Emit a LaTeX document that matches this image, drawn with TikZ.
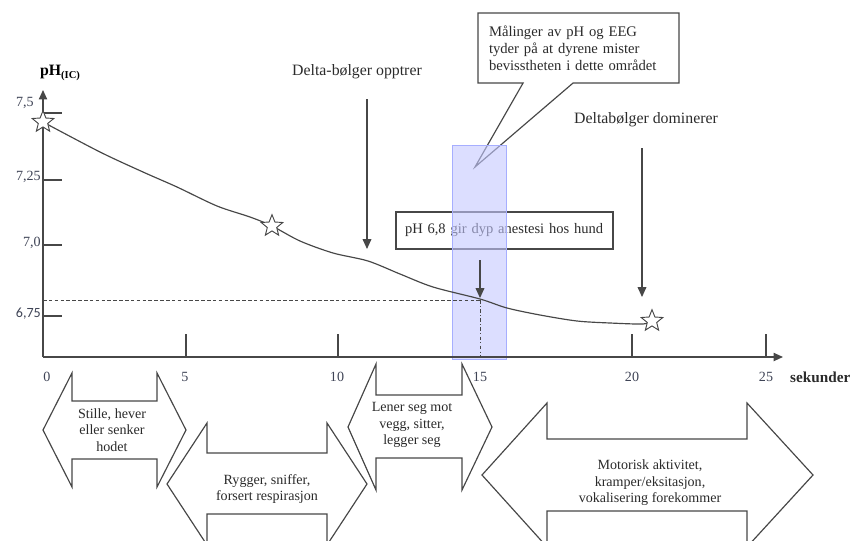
\documentclass[tikz,border=0pt]{standalone}
\usepackage{fontspec}
\setmainfont{Liberation Serif}
\setsansfont{Carlito}
\usetikzlibrary{positioning, arrows.meta, shapes.geometric, shapes.callouts}
\definecolor{Ink}{HTML}{2B2B2B}
\definecolor{Axis}{HTML}{474747}
\definecolor{Tick}{HTML}{3F4456}
\definecolor{ZoneFill}{HTML}{C4C8FF}
\definecolor{ZoneLine}{HTML}{A6AEFF}
\tikzset{
    axis/.style={Axis, line width=1.2pt, -{Triangle[length=8pt, width=7pt]}},
    tickmark/.style={Axis, line width=1pt},
    ticklabel/.style={text=Tick, font=\fontsize{12}{14}\selectfont, inner sep=0pt},
    curve/.style={Axis, line width=1pt, line join=round},
    starmark/.style={star, star points=5, star point ratio=2.3, draw=Axis, fill=white, line width=0.8pt, minimum size=0.68cm, inner sep=0pt},
    downarrow/.style={Axis, line width=1pt, -{Triangle[length=8.5pt, width=7.5pt]}},
    note/.style={text=Ink, font=\fontsize{13.5}{16}\selectfont, inner sep=0pt},
    infobox/.style={draw=Axis, line width=1pt, fill=white, text=Ink, align=left},
    bluezone/.style={fill=ZoneFill, fill opacity=0.6, draw=ZoneLine, line width=0.8pt},
    blockarrow/.style={draw=Axis, line width=1pt, fill=white, line join=miter},
    arrowtext/.style={text=Ink, align=center, font=\fontsize{12}{14}\selectfont, inner sep=0pt},
}

\begin{document}
\begin{tikzpicture}[x=0.3mm, y=-0.3mm]
    \useasboundingbox (0,0) rectangle (853,540);

    % Bokser over grafen
    \node[infobox, minimum width=6.51cm, minimum height=1.11cm, text width=5.97cm, inner xsep=0.27cm,
          font=\fontsize{12.4}{14.5}\selectfont] (dyp) at (504.5,230.5) {pH 6,8 gir dyp anestesi hos hund};
    \coordinate (tip) at (475,167);
    \node[infobox, rectangle callout, callout absolute pointer={(tip)}, callout pointer width=1.5cm,
          minimum width=6.03cm, minimum height=2.1cm, text width=5.37cm, inner xsep=0.33cm,
          font=\fontsize{12.5}{14.5}\selectfont] (maling) at (578.5,48)
          {Målinger av pH og EEG\\tyder på at dyrene mister\\bevisstheten i dette området};

    % Blått område
    \draw[bluezone] (452,145) rectangle (506,359);

    % Akser
    \coordinate (O) at (43,357);
    \coordinate (ytop) at (43,90);
    \coordinate (xend) at (783,357);
    \draw[axis] (O) -- (ytop);
    \draw[axis] (O) -- (xend);
    \node (phlabel) at (60,73) {\fontsize{13.5}{15}\selectfont\bfseries pH\raisebox{-3pt}{\fontsize{9}{10}\selectfont(IC)}};

    % Skala y
    \foreach \ty/\ly/\lx/\lab in {113/103/34/{7,5}, 180/177/41/{7,25}, 245/243/41/{7,0}, 316/314/41/{\sffamily 6,75}} {
        \draw[tickmark] (43,\ty) -- (62,\ty);
        \node[ticklabel, anchor=east] at (\lx,\ly) {\lab};
    }

    % Skala x
    \foreach \x in {186,338,632,766}
        \draw[tickmark] (\x,357) -- (\x,334);
    \foreach \x/\lab in {47/0, 185/5, 337/10, 480/15, 632/20, 766/25}
        \node[ticklabel] at (\x,377) {\lab};
    \node[text=Ink, font=\fontsize{13}{15}\selectfont\bfseries, anchor=west, inner sep=0pt] (sek) at (790,377) {sekunder};

    % pH-kurve
    \draw[curve] plot[smooth, tension=0.5] coordinates {(43,122) (100,152) (143,172) (177,187) (217,206) (250,217)
        (272,226) (300,241) (333,253) (368,261) (400,274) (433,287) (480,299) (507,308) (540,315) (577,321)
        (610,323) (643,324) (652,321)};

    % Nivå pH 6,8
    \coordinate (lvl) at (480,300);
    \coordinate (lvlaxis) at (480,357);
    \draw[Axis, line width=0.8pt, dash pattern=on 3pt off 2pt] (43,300) -- (lvl);
    \draw[Axis, line width=0.8pt, dash dot] (lvl) -- (lvlaxis);

    % Stjerner
    \node[starmark] (s1) at (43,122) {};
    \node[starmark] (s2) at (272,226) {};
    \node[starmark] (s3) at (652,321) {};

    % Tekst og piler
    \node[note] (deltaA) at (357,72) {Delta-bølger opptrer};
    \node[note] (deltaB) at (646,120) {Deltabølger dominerer};
    \coordinate (a1) at (367,99);
    \coordinate (a1tip) at (367,249);
    \coordinate (a2) at (642,148);
    \coordinate (a2tip) at (642,297);
    \coordinate (a3) at (480,260);
    \coordinate (a3tip) at (480,298);
    \draw[downarrow] (a1) -- (a1tip);
    \draw[downarrow] (a2) -- (a2tip);
    \draw[downarrow] (a3) -- (a3tip);

    % Atferd (doble piler)
    \draw[blockarrow] (43,430) -- (72,373) -- (72,401) -- (157,401) -- (157,373) -- (186,430)
        -- (157,487) -- (157,459) -- (72,459) -- (72,487) -- cycle;
    \node[arrowtext] (stille) at (112,430) {Stille, hever\\eller senker\\hodet};

    \draw[blockarrow] (167,484) -- (207,423) -- (207,453) -- (327,453) -- (327,423) -- (367,484)
        -- (327,545) -- (327,514) -- (207,514) -- (207,545) -- cycle;
    \node[arrowtext] (rygger) at (267,489) {Rygger, sniffer,\\forsert respirasjon};

    \draw[blockarrow] (348,427) -- (376,364) -- (376,395) -- (462,395) -- (462,364) -- (492,427)
        -- (462,490) -- (462,458) -- (376,458) -- (376,490) -- cycle;
    \node[arrowtext] (lener) at (412,425) {Lener seg mot\\vegg, sitter,\\legger seg};

    \draw[blockarrow] (482,475) -- (547,403) -- (547,439) -- (747,439) -- (747,403) -- (813,475)
        -- (747,547) -- (747,511) -- (547,511) -- (547,547) -- cycle;
    \node[arrowtext] (motorisk) at (650,483) {Motorisk aktivitet,\\kramper/eksitasjon,\\vokalisering forekommer};
\end{tikzpicture}
\end{document}
